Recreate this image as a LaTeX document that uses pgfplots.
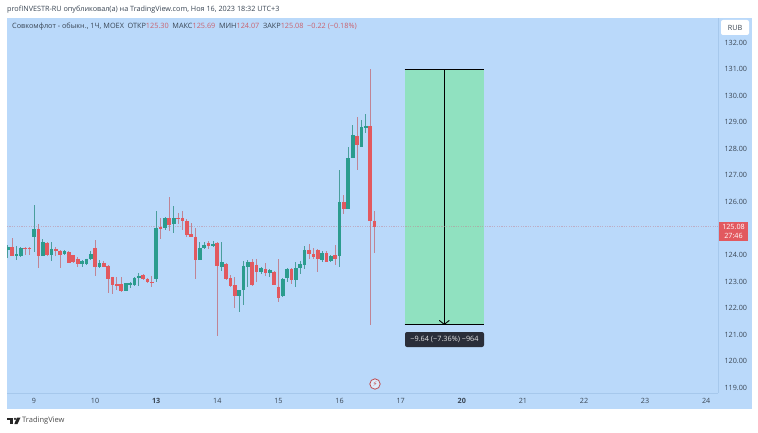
\documentclass[border=0pt]{standalone}
\usepackage{fontspec}
\setmainfont{Open Sans}
\newfontfamily\djv{DejaVu Sans}
\usepackage{pgfplots}
\usepackage{pgfplotstable}
\usetikzlibrary{arrows.meta}
\pgfplotsset{compat=1.18}
\definecolor{panel}{HTML}{BAD9FA}
\definecolor{sep}{HTML}{A6C8EC}
\definecolor{up}{HTML}{2B9C8E}
\definecolor{dn}{HTML}{E2595F}
\definecolor{upw}{HTML}{4A9E9C}
\definecolor{dnw}{HTML}{C08494}
\definecolor{zone}{HTML}{90E1C0}
\definecolor{txt}{HTML}{3A4654}
\definecolor{val}{HTML}{C9626E}
\definecolor{tagdark}{HTML}{2A2E39}
\pgfplotstableread{
x t b h l
-6 124.29 124.19 124.38 123.88
-4 124.04 123.97 124.35 123.82
-3 124.25 123.97 124.32 123.92
0 124.98 124.69 125.88 124.13
2 124.50 123.97 124.59 123.97
4 124.23 123.99 124.48 123.78
7 124.15 124.03 124.19 124.00
11 123.76 123.66 123.82 123.56
12 123.87 123.66 123.87 123.64
13 124.04 123.84 124.17 123.82
15 123.69 123.54 123.82 123.51
21 122.94 122.66 122.96 122.65
22 122.96 122.89 123.00 122.75
23 123.15 122.86 123.19 122.84
24 123.23 123.13 123.31 122.84
28 125.03 123.09 125.66 123.00
30 125.38 125.03 125.42 124.94
32 125.38 125.17 125.85 124.84
38 124.28 123.82 124.50 123.82
39 124.39 124.27 124.50 124.23
41 124.43 124.35 124.53 124.32
43 123.73 123.54 124.50 123.41
47 122.67 122.47 122.67 121.86
48 123.58 122.67 123.78 122.12
49 123.74 123.56 123.82 122.81
52 123.50 123.36 123.54 123.28
54 123.44 123.33 123.46 123.19
57 123.10 122.46 123.13 122.41
58 123.49 123.15 123.50 122.99
60 123.50 123.05 123.75 122.81
61 123.65 123.50 123.78 123.28
62 124.20 123.63 124.35 123.46
66 124.07 123.80 124.17 123.75
68 123.97 123.78 124.00 123.75
70 125.98 123.98 127.20 123.56
72 127.65 125.72 128.05 125.72
73 128.50 127.65 128.88 127.65
75 128.81 128.08 129.08 128.08
76 128.86 128.78 129.30 128.58
}\greencandles
\pgfplotstableread{
x t b h l
-5 124.29 123.97 124.66 123.97
-2 124.25 124.22 124.32 124.00
-1 124.25 124.22 124.32 124.00
1 124.98 123.97 125.17 123.50
3 124.47 123.99 124.50 123.97
5 124.23 124.17 124.32 123.97
6 124.17 123.99 124.19 123.50
8 124.10 123.71 124.15 123.69
9 123.99 123.75 124.02 123.69
10 123.87 123.65 123.92 123.54
14 124.27 123.56 124.55 123.21
16 123.71 123.56 123.79 123.54
17 123.59 123.09 123.63 122.59
18 123.18 122.86 123.19 122.54
19 122.91 122.84 123.16 122.69
20 122.90 122.66 123.16 122.62
25 123.24 123.10 123.29 123.06
26 123.10 122.97 123.13 122.94
27 123.00 122.97 123.21 122.81
29 125.06 124.99 125.38 124.60
31 125.38 125.13 126.17 124.91
33 125.41 125.34 125.57 125.17
34 125.40 125.27 125.67 124.94
35 125.27 124.76 125.34 124.69
36 124.79 124.69 125.22 124.69
37 124.69 123.82 125.01 123.09
40 124.44 124.34 124.53 124.24
42 124.47 123.59 124.48 120.97
44 123.66 123.10 123.69 123.06
45 123.13 122.85 123.25 122.81
46 122.86 122.47 123.19 122.02
50 123.74 122.86 123.85 122.84
51 123.64 123.36 123.85 123.00
53 123.49 123.34 123.69 123.23
55 123.38 122.87 123.41 122.86
56 122.80 122.40 123.85 122.25
59 123.49 123.06 123.50 122.91
63 124.20 124.05 124.40 123.84
64 124.04 123.92 124.28 123.87
65 124.20 123.84 124.23 123.35
67 124.07 123.75 124.14 123.73
69 123.99 123.87 124.37 123.64
71 125.98 125.75 126.26 125.55
74 128.49 128.14 129.18 127.20
77 128.86 125.29 131.00 121.37
78 125.29 125.07 125.67 124.09
}\redcandles
\pgfplotsset{
  wick/.style={draw=none,no markers,forget plot,
    error bars/.cd,y dir=both,y explicit,error mark=none,
    error bar style={line width=0.9pt,draw=#1}},
  body/.style={draw=none,no markers,forget plot,
    error bars/.cd,y dir=minus,y explicit,error mark=none,
    error bar style={line width=3.7pt,draw=#1}}
}
\begin{document}
\begin{tikzpicture}[x=1pt,y=1pt]
\path[use as bounding box,fill=white] (0,0) rectangle (758,432);
\fill[panel] (7,23) rectangle (751.5,414);
\begin{axis}[
  at={(7pt,39pt)},anchor=south west,
  width=711pt,height=375pt,scale only axis,
  xmin=-6.186,xmax=156.7,ymin=118.81,ymax=132.92,
  axis x line*=bottom,axis y line*=right,
  axis line style={draw=sep,line width=0.7pt},
  major tick length=0pt,
  xtick={0,14,28,42,56,70,84,98,112,126,140,154},
  xticklabels={9,10,\textbf{13},14,15,16,17,\textbf{20},21,22,23,24},
  ytick={119,120,121,122,123,124,126,127,128,129,130,131,132},
  yticklabel style={/pgf/number format/fixed,/pgf/number format/fixed zerofill,/pgf/number format/precision=2,/pgf/number format/assume math mode=true},
  tick label style={font=\fontsize{7.2}{8}\selectfont,text=txt},
  x tick label style={yshift=-1.5pt},
  y tick label style={xshift=3pt},
]
\addplot[draw=none,fill=zone,forget plot] coordinates {(84.9,121.37) (103.1,121.37) (103.1,131.0) (84.9,131.0)} -- cycle;
\addplot[black,line width=1pt,forget plot] coordinates {(84.9,131.0) (103.1,131.0)};
\addplot[black,line width=1pt,forget plot] coordinates {(84.9,121.37) (103.1,121.37)};
\addplot[black,line width=0.9pt,-{Straight Barb[length=4pt,width=10pt]},forget plot] coordinates {(94,131.0) (94,121.37)};
\addplot[dnw,dash pattern=on 1.2pt off 1.2pt,line width=0.5pt,opacity=.5,forget plot] coordinates {(-6.186,125.08) (156.7,125.08)};
\addplot[wick=upw] table[x=x,y=t,y error plus expr=\thisrow{h}-\thisrow{t},y error minus expr=\thisrow{t}-\thisrow{l}] {\greencandles};
\addplot[wick=dnw] table[x=x,y=t,y error plus expr=\thisrow{h}-\thisrow{t},y error minus expr=\thisrow{t}-\thisrow{l}] {\redcandles};
\addplot[body=up] table[x=x,y=t,y error minus expr=\thisrow{t}-\thisrow{b}] {\greencandles};
\addplot[body=dn] table[x=x,y=t,y error minus expr=\thisrow{t}-\thisrow{b}] {\redcandles};
\end{axis}
% overlay labels
\node[anchor=west,inner sep=0,font=\fontsize{7.25}{8}\selectfont,text=txt] at (7,422) {profINVESTR-RU опубликовал(а) на TradingView.com, Ноя 16, 2023 18:32 UTC+3};
\node[anchor=west,inner sep=0,font=\fontsize{7.3}{8}\selectfont,text=txt] at (12,405) {Совкомфлот - обыкн., 1Ч, MOEX\enspace ОТКР\textcolor{val}{125.30}\enspace МАКС\textcolor{val}{125.69}\enspace МИН\textcolor{val}{124.07}\enspace ЗАКР\textcolor{val}{125.08}\enspace\textcolor{val}{−0.22 (−0.18\%)}};
\fill[white,rounded corners=2pt] (721,397) rectangle (749,412);
\node[font=\fontsize{7.2}{8}\selectfont,text=txt] at (735,404.5) {RUB};
\fill[dn] (719,191) rectangle (748,210);
\node[font=\fontsize{7.2}{8}\selectfont,text=white] at (733.5,205) {125.08};
\node[font=\fontsize{7.2}{8}\selectfont,text=white] at (733.5,196) {27:46};
\fill[rounded corners=2pt,fill=tagdark] (405,85) rectangle (484,100);
\node[font=\fontsize{7.3}{8}\selectfont,text=white!90!black] at (444.5,92.5) {−9.64 (−7.36\%) −964};
\draw[dn!85!black,fill=panel!50!white,line width=0.8pt] (375,48) circle (5.2pt);
\node[font=\djv\fontsize{7}{8}\selectfont,text=dn!85!black,inner sep=0] at (375,48) {⚡};
% logo
\fill[black!85] (7,12.5) rectangle (13,14.5);
\fill[black!85] (10.3,8) rectangle (13,14.5);
\fill[black!85] (15,13.2) circle (1.2);
\fill[black!85] (17,14.5) -- (20.5,14.5) -- (17.5,8) -- (14.3,8) -- cycle;
\node[anchor=west,inner sep=0,font=\fontsize{7.5}{8}\selectfont,text=black!70] at (22,11) {TradingView};
\end{tikzpicture}
\end{document}
